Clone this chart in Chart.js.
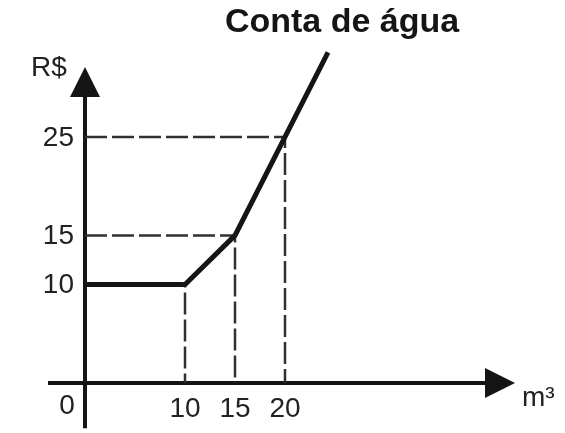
<!DOCTYPE html>
<html lang="pt-BR">
<head>
<meta charset="utf-8">
<title>Conta de água</title>
<script src="https://cdn.jsdelivr.net/npm/chart.js@4.4.1/dist/chart.umd.min.js"></script>
<style>
    html, body { margin: 0; padding: 0; background: #ffffff; overflow: hidden; }
    #wrap { position: relative; width: 565px; height: 433px; }
</style>
</head>
<body>
<div id="wrap"><canvas id="conta-chart"></canvas></div>
<script>
// Dados do gráfico (m³ x R$)
const consumoM3 = [0, 10, 15, 20, 24.3];
const valorReais = [10, 10, 15, 25, 33.6];

// Linhas tracejadas de referência
const guiaX = [10, 15, 20];
const guiaY = [10, 15, 25];

// Rótulos dos eixos
const ticksX = [10, 15, 20];
const ticksY = [10, 15, 25];

const titulo = "Conta de água";
const rotuloY = "R$";
const rotuloX = "m³";

(function () {
    "use strict";

    const pontos = consumoM3.map((x, i) => ({ x: x, y: valorReais[i] }));

    // horizontal (até o ponto) + vertical (até o eixo x), separados por null
    const guias = [];
    guiaX.forEach((gx, i) => {
        const gy = guiaY[i];
        guias.push({ x: 0, y: gy }, { x: gx, y: gy }, { x: gx, y: 0 });
        guias.push({ x: gx, y: null });
    });

    const ink = "#151515";
    const textInk = "#222222";

    const eixosPlugin = {
        id: "eixos",
        beforeDatasetsDraw(chart) {
            const ctx = chart.ctx;
            const sx = chart.scales.x;
            const sy = chart.scales.y;
            const x0 = sx.getPixelForValue(0);
            const y0 = sy.getPixelForValue(0);

            const xStart = sx.getPixelForValue(-3.7);
            const xTip = sx.getPixelForValue(43);
            const yStart = sy.getPixelForValue(-4.6);
            const yTip = sy.getPixelForValue(32.1);
            const arrowLen = 30, arrowHalf = 15;

            ctx.save();
            ctx.strokeStyle = ink;
            ctx.fillStyle = ink;
            ctx.lineWidth = 4;

            // eixo x
            ctx.beginPath();
            ctx.moveTo(xStart, y0);
            ctx.lineTo(xTip - arrowLen + 2, y0);
            ctx.stroke();
            ctx.beginPath();
            ctx.moveTo(xTip, y0);
            ctx.lineTo(xTip - arrowLen, y0 - arrowHalf);
            ctx.lineTo(xTip - arrowLen, y0 + arrowHalf);
            ctx.closePath();
            ctx.fill();

            // eixo y
            ctx.beginPath();
            ctx.moveTo(x0, yStart);
            ctx.lineTo(x0, yTip + arrowLen - 2);
            ctx.stroke();
            ctx.beginPath();
            ctx.moveTo(x0, yTip);
            ctx.lineTo(x0 - arrowHalf, yTip + arrowLen);
            ctx.lineTo(x0 + arrowHalf, yTip + arrowLen);
            ctx.closePath();
            ctx.fill();

            // rótulos
            ctx.fillStyle = textInk;
            ctx.font = "28px 'Liberation Sans', Arial, sans-serif";
            ctx.textBaseline = "middle";

            ctx.textAlign = "center";
            ticksX.forEach(t => {
                ctx.fillText(String(t), sx.getPixelForValue(t), y0 + 26);
            });
            ctx.fillText("0", x0 - 18, y0 + 23);

            ctx.textAlign = "right";
            ticksY.forEach(t => {
                ctx.fillText(String(t), x0 - 11, sy.getPixelForValue(t) + 1);
            });

            ctx.textAlign = "center";
            ctx.fillText(rotuloY, x0 - 36, yTip + 1);

            ctx.font = "28px 'Liberation Sans', Arial, sans-serif";
            ctx.textAlign = "left";
            ctx.fillText(rotuloX, xTip + 7, y0 + 15);

            // título
            ctx.font = "bold 34px 'Liberation Sans', Arial, sans-serif";
            ctx.textAlign = "center";
            ctx.fillStyle = ink;
            ctx.fillText(titulo, 342, 23);
            ctx.restore();
        }
    };

    document.addEventListener("DOMContentLoaded", function () {
        const canvas = document.getElementById("conta-chart");
        new Chart(canvas.getContext("2d"), {
            type: "scatter",
            data: {
                datasets: [{
                    label: "Conta",
                    data: pontos,
                    showLine: true,
                    borderColor: ink,
                    borderWidth: 5,
                    borderJoinStyle: "miter",
                    borderCapStyle: "butt",
                    pointRadius: 0,
                    tension: 0,
                    fill: false
                }, {
                    label: "Guias",
                    data: guias,
                    showLine: true,
                    spanGaps: false,
                    borderColor: "#303030",
                    borderWidth: 2.5,
                    borderDash: [22, 5],
                    pointRadius: 0,
                    tension: 0,
                    fill: false
                }]
            },
            options: {
                responsive: true,
                maintainAspectRatio: false,
                animation: false,
                layout: { padding: 0 },
                plugins: {
                    legend: { display: false },
                    tooltip: { enabled: false },
                    title: { display: false }
                },
                scales: {
                    x: { type: "linear", min: -8.5, max: 48, display: false },
                    y: { type: "linear", min: -5.08, max: 38.92, display: false }
                }
            },
            plugins: [eixosPlugin]
        });
    });
})();
</script>
</body>
</html>
